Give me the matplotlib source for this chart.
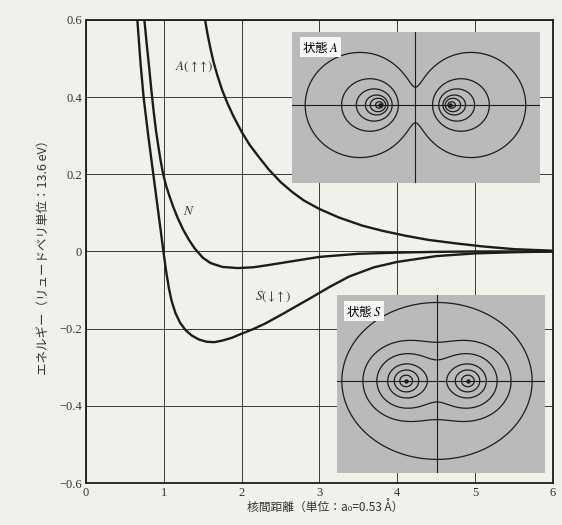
import numpy as np
import matplotlib
matplotlib.use('Agg')
import matplotlib.pyplot as plt

plt.rcParams['font.family'] = ['Liberation Serif', 'DejaVu Serif']
plt.rcParams['mathtext.fontset'] = 'stix'

JP = ['Noto Sans CJK JP', 'DejaVu Sans']
PAPER = '#f1f1ec'
GRAY = '#bababa'
INK = '#1c1c1c'

# energy curves (x: a0, y: Rydberg)
a_x = [1.53, 1.56, 1.60, 1.64, 1.69, 1.75, 1.82, 1.90, 2.00, 2.10, 2.22, 2.35,
       2.50, 2.65, 2.80, 3.00, 3.25, 3.55, 3.80, 4.10, 4.40, 4.75, 5.10, 5.50,
       6.00]
a_y = [0.600, 0.565, 0.525, 0.490, 0.455, 0.418, 0.383, 0.348, 0.310, 0.277,
       0.245, 0.212, 0.180, 0.154, 0.132, 0.110, 0.088, 0.067, 0.054, 0.041,
       0.030, 0.021, 0.013, 0.006, 0.002]

n_x = [0.75, 0.78, 0.81, 0.84, 0.87, 0.90, 0.93, 0.96, 0.99, 1.03, 1.07, 1.12,
       1.18, 1.25, 1.32, 1.40, 1.50, 1.60, 1.75, 1.95, 2.15, 2.35, 2.69, 3.00,
       3.50, 4.00, 4.50, 5.00, 6.00]
n_y = [0.600, 0.538, 0.480, 0.418, 0.362, 0.312, 0.272, 0.234, 0.202, 0.170,
       0.145, 0.116, 0.086, 0.056, 0.031, 0.007, -0.016, -0.030, -0.040,
       -0.043, -0.041, -0.035, -0.024, -0.014, -0.006, -0.003, -0.001, 0.000,
       0.000]

s_x = [0.66, 0.70, 0.74, 0.80, 0.865, 0.93, 0.995, 1.03, 1.065, 1.10, 1.15,
       1.21, 1.28, 1.36, 1.45, 1.55, 1.65, 1.75, 1.87, 2.00, 2.15, 2.30, 2.50,
       2.70, 2.90, 3.12, 3.38, 3.70, 4.00, 4.50, 5.00, 5.50, 6.00]
s_y = [0.600, 0.490, 0.400, 0.300, 0.200, 0.100, 0.000, -0.052, -0.095,
       -0.128, -0.160, -0.185, -0.204, -0.218, -0.228, -0.234, -0.235, -0.231,
       -0.224, -0.213, -0.201, -0.187, -0.165, -0.142, -0.119, -0.093, -0.065,
       -0.041, -0.027, -0.012, -0.005, -0.002, 0.000]

x_ticks = [0, 1, 2, 3, 4, 5, 6]
y_ticks = [-0.6, -0.4, -0.2, 0, 0.2, 0.4, 0.6]
y_tick_labels = ['\u22120.6', '\u22120.4', '\u22120.2', '0', '0.2', '0.4', '0.6']

# inset contour maps: nuclei at x = -1, +1; ring sizes = outward distance from a nucleus
a_rings = [0.14, 0.29, 0.43, 0.69, 1.11, 2.15]
s_rings = [0.20, 0.38, 0.59, 0.94, 1.39]
s_outer = (3.07, 2.53)   # outermost boundary of state S (half width, half height)


def density(X, Y, k, c, sy=1.0):
    pa = np.exp(-k * np.hypot(X + 1, Y * sy))
    pb = np.exp(-k * np.hypot(X - 1, Y * sy))
    return pa ** 2 + pb ** 2 + 2 * c * pa * pb


def draw_inset(rect, xlim, ylim, rings, k, c, sy, name, outer=None):
    ins = fig.add_axes(rect)
    ins.set_facecolor(GRAY)
    ins.set_xlim(*xlim)
    ins.set_ylim(*ylim)
    for s in ins.spines.values():
        s.set_visible(False)
    ins.set_xticks([])
    ins.set_yticks([])
    X, Y = np.meshgrid(np.linspace(xlim[0], xlim[1], 600),
                       np.linspace(ylim[0], ylim[1], 500))
    Z = density(X, Y, k, c, sy)
    d = np.array(rings)
    lev = np.sort(density(-1 - d, 0 * d, k, c, sy))
    ins.contour(X, Y, Z, levels=lev, colors=INK, linewidths=0.9)
    if outer is not None:
        E = np.hypot(X / outer[0], Y / outer[1])
        ins.contour(X, Y, E, levels=[1.0], colors=INK, linewidths=0.9)
    ins.axhline(0, color=INK, lw=0.8)
    ins.axvline(0, color=INK, lw=0.8)
    ins.plot([-1, 1], [0, 0], 'o', color=INK, ms=2.2)
    ins.text(0.04, 0.955, name, transform=ins.transAxes, ha='left', va='top',
             fontsize=9, family=JP,
             bbox=dict(boxstyle='square,pad=0.15', fc='#f6f6f4', ec='none'))
    return ins


fig = plt.figure(figsize=(5.62, 5.25), dpi=100, facecolor=PAPER)
ax = fig.add_axes([0.153, 0.080, 0.831, 0.882])
ax.set_facecolor(PAPER)

ax.plot(a_x, a_y, color=INK, lw=1.7, solid_capstyle='round')
ax.plot(n_x, n_y, color=INK, lw=1.7, solid_capstyle='round')
ax.plot(s_x, s_y, color=INK, lw=1.7, solid_capstyle='round')

ax.set_xlim(0, 6)
ax.set_ylim(-0.6, 0.6)
ax.set_xticks(x_ticks)
ax.set_yticks(y_ticks)
ax.set_yticklabels(y_tick_labels)
ax.tick_params(length=0, labelsize=9, pad=3, colors='#333333')
ax.grid(color='#3a3a3a', lw=0.7)
for s in ax.spines.values():
    s.set_linewidth(1.3)
    s.set_color(INK)

ax.text(1.14, 0.47, r'$A(\uparrow\!\uparrow)$', fontsize=9.5, color='#333333')
ax.text(1.24, 0.095, '$N$', fontsize=9.5, color='#333333')
ax.text(2.17, -0.125, r'$S(\downarrow\!\uparrow)$', fontsize=9.5, color='#333333')

fig.text(0.077, 0.515, 'エネルギー（リュードベリ単位：13.6 eV）', rotation=90,
         ha='center', va='center', fontsize=9, family=JP, color='#333333')
fig.text(0.578, 0.032, '核間距離（単位：a₀=0.53 Å）', ha='center', va='center',
         fontsize=8.5, family=JP, color='#333333')

draw_inset([0.520, 0.651, 0.441, 0.288], (-3.52, 3.56), (-2.23, 2.08),
           a_rings, 0.5, -0.915, 1.12, '状態 $\\mathit{A}$')
draw_inset([0.600, 0.099, 0.370, 0.339], (-3.22, 3.49), (-2.97, 2.77),
           s_rings, 1.5, 0.3, 1.1, '状態 $\\mathit{S}$', outer=s_outer)

fig.savefig('out.png', dpi=100, facecolor=PAPER)
